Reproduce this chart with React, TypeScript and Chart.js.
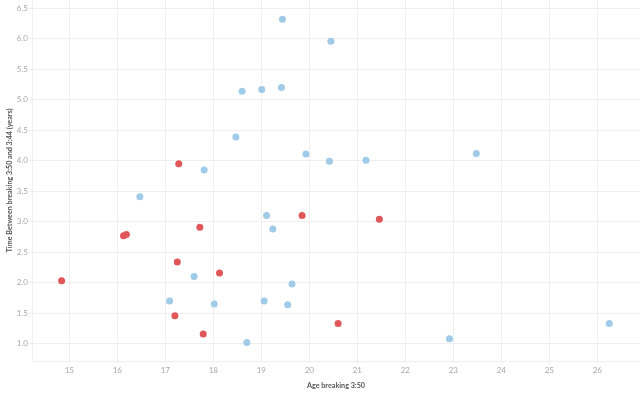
import React, { useEffect, useRef } from "react";
import { Chart, registerables } from "chart.js";

Chart.register(...registerables);

// Group A (light blue)
const blueAge = [19.44, 18.60, 19.01, 19.42, 18.47, 17.81, 19.93, 16.47, 20.45, 20.42, 21.18, 23.48, 19.11, 19.24, 17.60, 19.64, 17.09, 18.02, 19.06, 19.55, 18.70, 22.92, 26.25];
const blueGap = [6.32, 5.14, 5.17, 5.20, 4.39, 3.85, 4.11, 3.41, 5.96, 3.99, 4.01, 4.12, 3.10, 2.88, 2.10, 1.98, 1.70, 1.65, 1.70, 1.64, 1.02, 1.08, 1.33];

// Group B (red)
const redAge = [17.28, 19.85, 16.13, 16.19, 17.72, 17.25, 18.13, 14.84, 17.20, 17.79, 21.46, 20.60];
const redGap = [3.95, 3.10, 2.77, 2.79, 2.91, 2.34, 2.16, 2.03, 1.46, 1.16, 3.04, 1.33];

const xTitle = "Age breaking 3:50";
const yTitle = "Time Between breaking 3:50 and 3:44 (years)";

const BLUE = "#a0cbe8";
const RED = "#e15759";
const GRID = "#efefef";
const FONT = "Lato";

export default function App() {
  const ref = useRef<HTMLCanvasElement | null>(null);

  useEffect(() => {
    document.body.style.margin = "0";
    const canvas = ref.current;
    if (!canvas) return;
    const toPts = (xs: number[], ys: number[]) => xs.map((x, i) => ({ x, y: ys[i] }));
    const chart = new Chart(canvas, {
      type: "scatter",
      data: {
        datasets: [
          {
            data: toPts(blueAge, blueGap),
            backgroundColor: BLUE,
            borderColor: BLUE,
            borderWidth: 0,
            pointRadius: 3.5,
          },
          {
            data: toPts(redAge, redGap),
            backgroundColor: RED,
            borderColor: RED,
            borderWidth: 0,
            pointRadius: 3.5,
          },
        ],
      },
      options: {
        responsive: false,
        animation: false,
        layout: { padding: 0, autoPadding: false },
        plugins: {
          legend: { display: false },
          tooltip: { enabled: false },
        },
        scales: {
          x: {
            type: "linear",
            min: 14.223,
            max: 26.89,
            afterFit: (s: any) => {
              s.height = 33;
              s.paddingLeft = 0;
              s.paddingRight = 0;
            },
            grid: { color: GRID, tickLength: 3, drawTicks: true },
            border: { color: GRID },
            ticks: {
              stepSize: 1,
              includeBounds: false,
              padding: 2,
              maxRotation: 0,
              color: "#a8a8a8",
              font: { family: FONT, size: 8 },
              callback: (v: any) => String(Math.round(Number(v))),
            },
            title: {
              display: true,
              text: xTitle,
              color: "#555555",
              font: { family: FONT, size: 7.2, weight: "bold" },
              padding: { top: 0, bottom: 4.5 },
            },
          },
          y: {
            type: "linear",
            min: 0.716,
            max: 6.636,
            afterFit: (s: any) => {
              s.width = 32;
              s.paddingTop = 0;
              s.paddingBottom = 0;
            },
            grid: { color: GRID, tickLength: 3, drawTicks: true },
            border: { color: GRID },
            ticks: {
              stepSize: 0.5,
              includeBounds: false,
              padding: 1,
              color: "#a8a8a8",
              font: { family: FONT, size: 8 },
              callback: (v: any) => Number(v).toFixed(1),
            },
            title: {
              display: true,
              text: yTitle,
              color: "#555555",
              font: { family: FONT, size: 7.2, weight: "bold" },
              padding: { top: 5.5, bottom: 0 },
            },
          },
        },
      },
    });
    return () => chart.destroy();
  }, []);

  return (
    <div style={{ width: 640, height: 394 }}>
      <canvas ref={ref} width={640} height={394} />
    </div>
  );
}
